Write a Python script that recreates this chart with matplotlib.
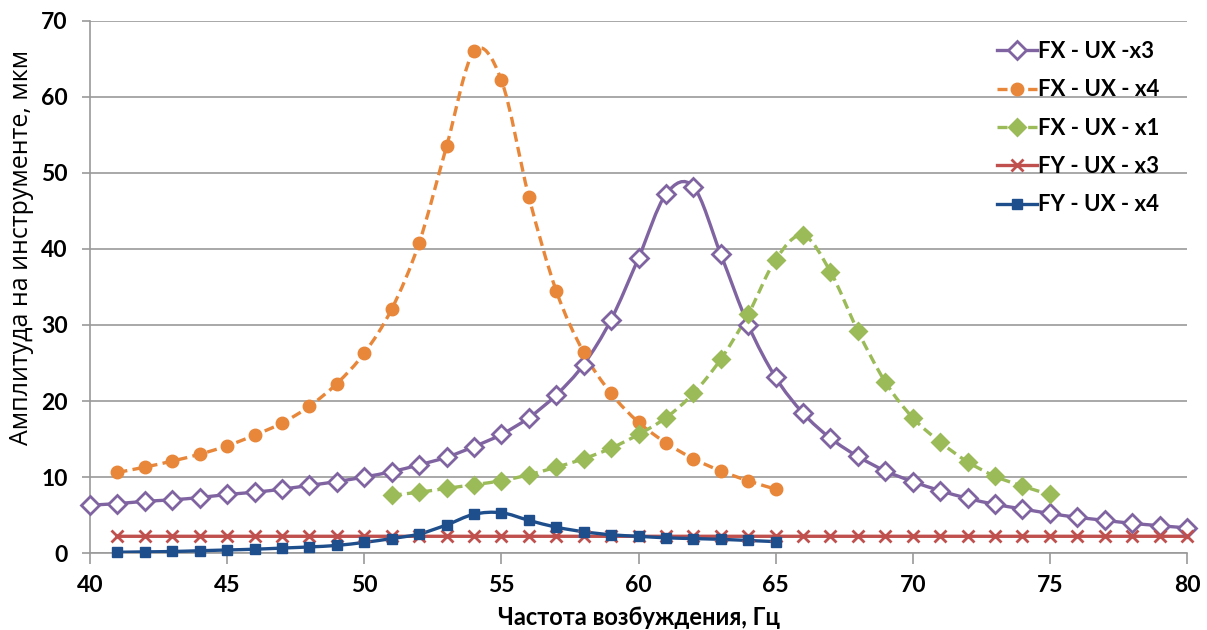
import numpy as np
import matplotlib
matplotlib.use('Agg')
import matplotlib.pyplot as plt
from matplotlib.path import Path
from matplotlib.patches import PathPatch
from matplotlib.lines import Line2D

plt.rcParams['font.family'] = ['Lato', 'DejaVu Sans']

# ---------------------------------------------------------------------------
# Data
# ---------------------------------------------------------------------------
freq_x3 = list(range(40, 81))
fx_ux_x3 = [6.3, 6.5, 6.8, 7.0, 7.3, 7.7, 8.0, 8.4, 8.9, 9.4,
            10.0, 10.7, 11.6, 12.6, 14.0, 15.6, 17.8, 20.8, 24.8, 30.7,
            38.8, 47.2, 48.2, 39.3, 30.0, 23.1, 18.4, 15.1, 12.7, 10.8,
            9.4, 8.2, 7.2, 6.4, 5.8, 5.2, 4.7, 4.3, 3.9, 3.6, 3.3]

freq_x4 = list(range(41, 66))
fx_ux_x4 = [10.6, 11.3, 12.1, 13.0, 14.1, 15.5, 17.1, 19.3, 22.3, 26.3,
            32.1, 40.8, 53.5, 66.0, 62.2, 46.9, 34.5, 26.4, 21.0, 17.2,
            14.5, 12.4, 10.8, 9.5, 8.4]

freq_x1 = list(range(51, 76))
fx_ux_x1 = [7.6, 8.0, 8.5, 9.0, 9.5, 10.3, 11.3, 12.4, 13.8, 15.6,
            17.8, 21.0, 25.5, 31.4, 38.6, 41.8, 37.0, 29.2, 22.5, 17.8,
            14.6, 12.0, 10.1, 8.8, 7.7]

freq_fy_x3 = list(range(41, 81))
fy_ux_x3 = [2.2] * 40

freq_fy_x4 = list(range(41, 66))
fy_ux_x4 = [0.1, 0.15, 0.2, 0.3, 0.4, 0.5, 0.65, 0.8, 1.0, 1.4,
            1.9, 2.5, 3.7, 5.1, 5.3, 4.3, 3.4, 2.8, 2.4, 2.2,
            2.0, 1.9, 1.8, 1.65, 1.5]

labels = ['FX - UX -x3', 'FX - UX - x4', 'FX - UX - x1',
          'FY - UX - x3', 'FY - UX - x4']


def smooth_path(x, y):
    """Excel-like smoothed line: cubic Bezier segments (Catmull-Rom tangents)."""
    x = np.asarray(x, float)
    y = np.asarray(y, float)
    verts = [(x[0], y[0])]
    codes = [Path.MOVETO]
    n = len(x)
    for i in range(n - 1):
        p0 = (x[max(i - 1, 0)], y[max(i - 1, 0)])
        p1 = (x[i], y[i])
        p2 = (x[i + 1], y[i + 1])
        p3 = (x[min(i + 2, n - 1)], y[min(i + 2, n - 1)])
        c1 = (p1[0] + (p2[0] - p0[0]) / 6, p1[1] + (p2[1] - p0[1]) / 6)
        c2 = (p2[0] - (p3[0] - p1[0]) / 6, p2[1] - (p3[1] - p1[1]) / 6)
        verts += [c1, c2, p2]
        codes += [Path.CURVE4] * 3
    return Path(verts, codes)


fig = plt.figure(figsize=(12.07, 6.3), dpi=100)
ax = fig.add_axes([0.0746, 0.1222, 0.9088, 0.8445])

series = [
    (freq_x3, fx_ux_x3, '#8064A2', '-', 'D', 'white', 9),
    (freq_x4, fx_ux_x4, '#E8873A', (0, (3, 1.6)), 'o', '#E8873A', 9),
    (freq_x1, fx_ux_x1, '#9BBB59', (0, (3, 1.6)), 'D', '#9BBB59', 8),
    (freq_fy_x3, fy_ux_x3, '#C0504D', '-', 'x', '#C0504D', 8),
    (freq_fy_x4, fy_ux_x4, '#1F4E8C', '-', 's', '#1F4E8C', 7),
]

handles = []
for (xs, ys, col, ls, mk, mfc, ms), lab in zip(series, labels):
    patch = PathPatch(smooth_path(xs, ys), facecolor='none', edgecolor=col,
                      lw=2.4, linestyle=ls, zorder=3)
    ax.add_patch(patch)
    mew = 2 if mk in ('D', 'x') else 1
    ax.plot(xs, ys, linestyle='none', marker=mk, color=col, mfc=mfc,
            mec=col, ms=ms, mew=mew, zorder=4, clip_on=False)
    handles.append(Line2D([], [], color=col, lw=2.4, linestyle=ls, marker=mk,
                          mfc=mfc, mec=col, ms=ms, mew=mew))

ax.set_xlim(40, 80)
ax.set_ylim(0, 70)
ax.set_xticks(range(40, 81, 5))
ax.set_yticks(range(0, 71, 10))
ax.grid(axis='y', color='#9a9a9a', lw=1.2)
ax.set_axisbelow(True)
for s in ('top', 'right'):
    ax.spines[s].set_visible(False)
for s in ('left', 'bottom'):
    ax.spines[s].set_color('#9a9a9a')
    ax.spines[s].set_linewidth(1.2)
ax.tick_params(axis='x', colors='#9a9a9a', length=8, width=1.2,
               labelcolor='black', labelsize=16.5, pad=8)
ax.tick_params(axis='y', colors='#9a9a9a', length=6, width=1.2,
               labelcolor='black', labelsize=16.5, pad=10)
for lbl in ax.get_xticklabels() + ax.get_yticklabels():
    lbl.set_fontweight('bold')

ax.set_xlabel('Частота возбуждения, Гц', fontsize=17, fontweight='bold',
              labelpad=7)
ax.set_ylabel('Амплитуда на инструменте, мкм', fontsize=18,
              fontweight='medium', family=['Open Sans', 'DejaVu Sans'])
ax.yaxis.set_label_coords(-0.051, 0.575)

leg = ax.legend(handles, labels, loc='upper right', frameon=False,
                fontsize=16, handlelength=1.8, labelspacing=0.78,
                bbox_to_anchor=(0.993, 1.0), handletextpad=0.05)
for t in leg.get_texts():
    t.set_fontweight('bold')

fig.savefig('out.png', dpi=100)
